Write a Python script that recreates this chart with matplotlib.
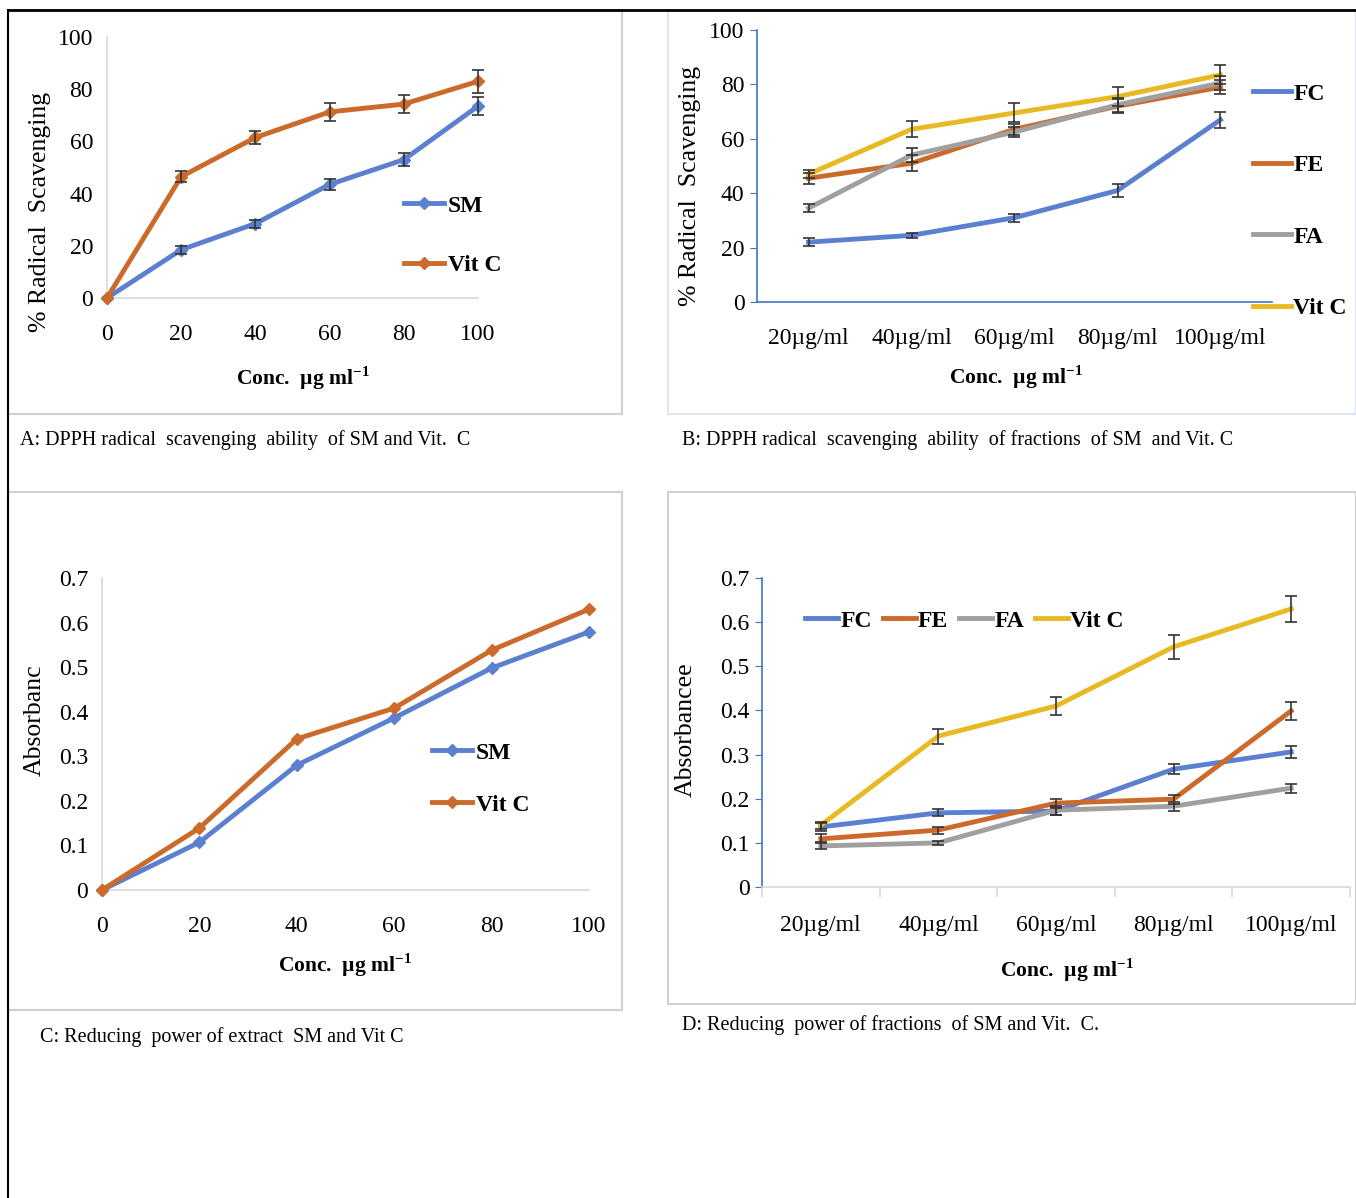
import matplotlib
matplotlib.use("Agg")
import matplotlib.pyplot as plt
from matplotlib.patches import Rectangle
from matplotlib.lines import Line2D
from matplotlib.ticker import FuncFormatter

plt.rcParams['font.family'] = ['Liberation Serif', 'DejaVu Serif']
plt.rcParams['mathtext.fontset'] = 'custom'
plt.rcParams['mathtext.rm'] = 'Liberation Serif'
plt.rcParams['mathtext.bf'] = 'Liberation Serif:bold'

# ---------------- data ----------------
conc_num = [0, 20, 40, 60, 80, 100]
conc_cat = ["20µg/ml", "40µg/ml", "60µg/ml", "80µg/ml", "100µg/ml"]

# Panel A: DPPH radical scavenging of SM and Vit C
a_sm = [0, 18.5, 28.5, 43.5, 53, 73.5]
a_sm_err = [0, 1.5, 1.5, 2.0, 2.5, 3.5]
a_vitc = [0, 46.5, 61.5, 71.3, 74.3, 83]
a_vitc_err = [0, 2.0, 2.5, 3.5, 3.5, 4.5]

# Panel B: DPPH radical scavenging of fractions
b_fc = [22, 24.5, 31, 41, 67]
b_fc_err = [1.5, 1.0, 1.5, 2.5, 3.0]
b_fe = [45.5, 51, 63.5, 72, 79]
b_fe_err = [2.0, 3.0, 2.0, 2.5, 2.5]
b_fa = [34.5, 54, 62.5, 72.5, 80.5]
b_fa_err = [1.5, 2.5, 2.0, 2.5, 2.5]
b_vitc = [47, 63.5, 69.5, 75.5, 83.5]
b_vitc_err = [1.5, 3.0, 3.5, 3.5, 3.5]

# Panel C: Reducing power of extract SM and Vit C
c_sm = [0, 0.107, 0.28, 0.386, 0.498, 0.579]
c_vitc = [0, 0.139, 0.339, 0.408, 0.538, 0.63]

# Panel D: Reducing power of fractions
d_fc = [0.136, 0.168, 0.172, 0.267, 0.306]
d_fc_err = [0.010, 0.008, 0.010, 0.012, 0.013]
d_fe = [0.109, 0.129, 0.19, 0.199, 0.399]
d_fe_err = [0.010, 0.008, 0.010, 0.010, 0.020]
d_fa = [0.093, 0.100, 0.174, 0.183, 0.224]
d_fa_err = [0.008, 0.005, 0.010, 0.010, 0.010]
d_vitc = [0.14, 0.342, 0.41, 0.544, 0.63]
d_vitc_err = [0.008, 0.017, 0.020, 0.028, 0.030]

captions = ["A: DPPH radical  scavenging  ability  of SM and Vit.  C",
            "B: DPPH radical  scavenging  ability  of fractions  of SM  and Vit. C",
            "C: Reducing  power of extract  SM and Vit C",
            "D: Reducing  power of fractions  of SM and Vit.  C."]

# ---------------- style ----------------
BLUE = "#5B80D0"
ORANGE = "#CC6A2C"
GRAY = "#A0A0A0"
YELLOW = "#E9B924"
AXBLUE = "#4472C4"
AXGRAY = "#D9D9D9"

W, H = 1356, 1198
fig = plt.figure(figsize=(W / 100, H / 100), dpi=100)


def ax_px(x0, y0, x1, y1):
    return fig.add_axes([x0 / W, 1 - y1 / H, (x1 - x0) / W, (y1 - y0) / H])


def ftext(x, y, s, **kw):
    fig.text(x / W, 1 - y / H, s, **kw)


# boxes and outer frame
for (x0, y0, x1, y1, col) in [(8, 10, 622, 414, "#D0D0D0"), (668, 10, 1356, 414, "#DCE6F2"),
                              (8, 492, 622, 1010, "#D0D0D0"), (668, 492, 1356, 1004, "#D0D0D0")]:
    fig.patches.append(Rectangle((x0 / W, 1 - y1 / H), (x1 - x0) / W, (y1 - y0) / H,
                                 transform=fig.transFigure, fill=False, edgecolor=col, lw=1.5))
fig.lines.append(Line2D([8 / W, 1], [1 - 10 / H, 1 - 10 / H], transform=fig.transFigure, color="black", lw=2))
fig.lines.append(Line2D([8 / W, 8 / W], [1 - 10 / H, 0], transform=fig.transFigure, color="black", lw=1.5))

TICK_FS = 17
LEG_FS = 17
XLAB_FS = 15.5
YLAB_FS = 18.5
CAP_FS = 14.5
XLAB = r"Conc.  µg ml$^{\mathbf{-1}}$"


def style_num_axes(ax):
    for s in ["top", "right"]:
        ax.spines[s].set_visible(False)
    for s in ["left", "bottom"]:
        ax.spines[s].set_color(AXGRAY)
        ax.spines[s].set_linewidth(1.2)
    ax.tick_params(length=0, labelsize=TICK_FS, pad=10)


def err(ax, x, y, e):
    ax.errorbar(x, y, yerr=e, fmt="none", ecolor="#333333", elinewidth=1.2, capsize=4,
                capthick=1.2, zorder=4, clip_on=False)


# ---------------- Panel A ----------------
axA = ax_px(107, 37, 478, 298)
style_num_axes(axA)
axA.set_xlim(0, 100)
axA.set_ylim(0, 100)
axA.set_xticks(conc_num)
axA.set_yticks([0, 20, 40, 60, 80, 100])
axA.plot(conc_num, a_sm, color=BLUE, lw=3.5, marker="D", ms=6, label="SM", clip_on=False, zorder=3)
axA.plot(conc_num, a_vitc, color=ORANGE, lw=3.5, marker="D", ms=6, label="Vit C", clip_on=False, zorder=3)
err(axA, conc_num[1:], a_sm[1:], a_sm_err[1:])
err(axA, conc_num[1:], a_vitc[1:], a_vitc_err[1:])
axA.tick_params(axis="x", pad=19)
axA.legend(loc="upper left", bbox_to_anchor=(404 / W, 1 - 195 / H), bbox_transform=fig.transFigure,
           frameon=False, prop={"weight": "bold", "size": LEG_FS}, handlelength=1.7,
           handletextpad=0.15, labelspacing=1.6, borderaxespad=0, borderpad=0)
ftext(40, 212, "% Radical  Scavenging", rotation=90, ha="center", va="center", fontsize=YLAB_FS)
ftext(303, 378, XLAB, ha="center", va="center", fontsize=XLAB_FS, fontweight="bold")
ftext(20, 440, captions[0], ha="left", va="center", fontsize=CAP_FS)

# ---------------- Panel B ----------------
axB = ax_px(757, 30, 1272, 302)
for s in ["top", "right"]:
    axB.spines[s].set_visible(False)
for s in ["left", "bottom"]:
    axB.spines[s].set_color(AXBLUE)
    axB.spines[s].set_linewidth(1.2)
xb = list(range(len(conc_cat)))
axB.set_xlim(-0.5, 4.5)
axB.set_ylim(0, 100)
axB.set_yticks([0, 20, 40, 60, 80, 100])
axB.set_xticks(xb)
axB.set_xticklabels(conc_cat)
axB.tick_params(axis="y", length=5, color=AXBLUE, labelsize=TICK_FS, pad=4)
axB.tick_params(axis="x", length=0, labelsize=TICK_FS, pad=19)
for y, e, c, lab in [(b_fc, b_fc_err, BLUE, "FC"), (b_fe, b_fe_err, ORANGE, "FE"),
                     (b_fa, b_fa_err, GRAY, "FA"), (b_vitc, b_vitc_err, YELLOW, "Vit C")]:
    axB.plot(xb, y, color=c, lw=3.5, label=lab, zorder=3)
    err(axB, xb, y, e)
axB.legend(loc="upper left", bbox_to_anchor=(1253 / W, 1 - 83 / H), bbox_transform=fig.transFigure,
           frameon=False, prop={"weight": "bold", "size": LEG_FS}, handlelength=1.6,
           handletextpad=0.1, labelspacing=2.12, borderaxespad=0, borderpad=0)
ftext(690, 186, "% Radical  Scavenging", rotation=90, ha="center", va="center", fontsize=YLAB_FS)
ftext(1016, 377, XLAB, ha="center", va="center", fontsize=XLAB_FS, fontweight="bold")
ftext(682, 440, captions[1], ha="left", va="center", fontsize=CAP_FS)

# ---------------- Panel C ----------------
fmt = FuncFormatter(lambda v, p: "0" if abs(v) < 1e-9 else f"{v:.1f}")
axC = ax_px(102, 578, 589, 890)
style_num_axes(axC)
axC.set_xlim(0, 100)
axC.set_ylim(0, 0.7)
axC.set_xticks(conc_num)
axC.set_yticks([0, 0.1, 0.2, 0.3, 0.4, 0.5, 0.6, 0.7])
axC.yaxis.set_major_formatter(fmt)
axC.tick_params(axis="x", pad=19)
axC.plot(conc_num, c_sm, color=BLUE, lw=3.5, marker="D", ms=6, label="SM", clip_on=False, zorder=3)
axC.plot(conc_num, c_vitc, color=ORANGE, lw=3.5, marker="D", ms=6, label="Vit C", clip_on=False, zorder=3)
axC.legend(loc="upper left", bbox_to_anchor=(432 / W, 1 - 742 / H), bbox_transform=fig.transFigure,
           frameon=False, prop={"weight": "bold", "size": LEG_FS}, handlelength=1.7,
           handletextpad=0.15, labelspacing=1.3, borderaxespad=0, borderpad=0)
ftext(35, 720, "Absorbanc", rotation=90, ha="center", va="center", fontsize=YLAB_FS)
ftext(345, 965, XLAB, ha="center", va="center", fontsize=XLAB_FS, fontweight="bold")
ftext(40, 1037, captions[2], ha="left", va="center", fontsize=CAP_FS)

# ---------------- Panel D ----------------
axD = ax_px(762, 578, 1350, 887)
for s in ["top", "right"]:
    axD.spines[s].set_visible(False)
axD.spines["left"].set_color(AXBLUE)
axD.spines["left"].set_linewidth(1.2)
axD.spines["bottom"].set_color(AXGRAY)
axD.spines["bottom"].set_linewidth(1.2)
axD.set_xlim(-0.5, 4.5)
axD.set_ylim(0, 0.7)
axD.set_yticks([0, 0.1, 0.2, 0.3, 0.4, 0.5, 0.6, 0.7])
axD.yaxis.set_major_formatter(fmt)
axD.set_xticks(xb)
axD.set_xticklabels(conc_cat)
axD.set_xticks([i - 0.5 for i in range(len(conc_cat) + 1)], minor=True)
axD.tick_params(axis="x", which="minor", length=7, color=AXGRAY, width=1.2)
axD.tick_params(axis="x", which="major", length=0, labelsize=TICK_FS, pad=20)
axD.tick_params(axis="y", length=5, color=AXBLUE, labelsize=TICK_FS, pad=4)
for y, e, c, lab in [(d_fc, d_fc_err, BLUE, "FC"), (d_fe, d_fe_err, ORANGE, "FE"),
                     (d_fa, d_fa_err, GRAY, "FA"), (d_vitc, d_vitc_err, YELLOW, "Vit C")]:
    axD.plot(xb, y, color=c, lw=3.5, label=lab, zorder=3)
    err(axD, xb, y, e)
axD.legend(loc="upper left", bbox_to_anchor=(805 / W, 1 - 610 / H), bbox_transform=fig.transFigure,
           ncol=4, frameon=False, prop={"weight": "bold", "size": LEG_FS}, handlelength=1.4,
           handletextpad=0.1, columnspacing=0.45, borderaxespad=0, borderpad=0)
ftext(686, 730, "Absorbancee", rotation=90, ha="center", va="center", fontsize=YLAB_FS)
ftext(1067, 970, XLAB, ha="center", va="center", fontsize=XLAB_FS, fontweight="bold")
ftext(682, 1025, captions[3], ha="left", va="center", fontsize=CAP_FS)

fig.savefig("out.png", dpi=100)
